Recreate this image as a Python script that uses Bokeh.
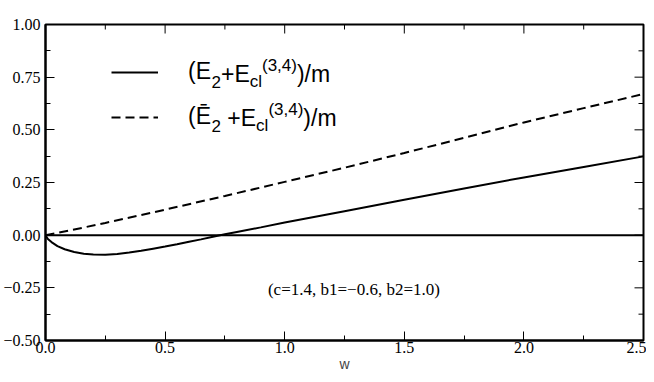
import math
from bokeh.plotting import figure
from bokeh.models import Range1d, FixedTicker, Label, Legend, LegendItem, Span
from bokeh.core.properties import value
from bokeh.embed import file_html
from bokeh.resources import INLINE

# ---- data ----
w_solid = [0.0, 0.01, 0.025, 0.05, 0.08, 0.12, 0.16, 0.2, 0.25, 0.3, 0.35, 0.4,
           0.45, 0.5, 0.55, 0.6, 0.65, 0.7, 0.75, 0.8, 0.9, 1.0, 1.25, 1.5,
           1.75, 2.0, 2.25, 2.5]
e_solid = [0.0, -0.018, -0.033, -0.052, -0.067, -0.080, -0.088, -0.092, -0.093,
           -0.089, -0.082, -0.074, -0.064, -0.054, -0.043, -0.031, -0.020,
           -0.008, 0.004, 0.015, 0.037, 0.060, 0.114, 0.168, 0.222, 0.274,
           0.324, 0.374]
w_dashed = [0.0, 0.1, 0.25, 0.5, 0.75, 1.0, 1.25, 1.5, 1.75, 2.0, 2.25, 2.5]
e_dashed = [0.0, 0.022, 0.058, 0.121, 0.186, 0.253, 0.320, 0.390, 0.462, 0.535,
            0.603, 0.670]

x_ticks = [0.0, 0.5, 1.0, 1.5, 2.0, 2.5]
x_tick_labels = ["0.0", "0.5", "1.0", "1.5", "2.0", "2.5"]
x_minor = [0.25, 0.75, 1.25, 1.75, 2.25]
y_ticks = [-0.5, -0.25, 0.0, 0.25, 0.5, 0.75, 1.0]
y_tick_labels = ["\u22120.50", "\u22120.25", "0.00", "0.25", "0.50", "0.75", "1.00"]
y_minor = [-0.375, -0.125, 0.125, 0.375, 0.625, 0.875]
x_label = "w"
note_text = "(c=1.4, b1=\u22120.6, b2=1.0)"

SERIF = "Liberation Serif"
SANS = "Liberation Sans"
X0, X1, Y0, Y1 = 0.0, 2.5, -0.5, 1.0

p = figure(width=646, height=374, output_backend="svg", toolbar_location=None,
           x_range=Range1d(X0, X1), y_range=Range1d(Y0, Y1),
           min_border_left=42, min_border_right=3, min_border_top=24,
           min_border_bottom=34, background_fill_color="white",
           border_fill_color="white")
p.xgrid.visible = False
p.ygrid.visible = False
p.outline_line_color = "black"
p.outline_line_width = 2


def style(ax):
    ax.axis_line_color = "black"
    ax.axis_line_width = 2
    ax.major_tick_in = 9
    ax.major_tick_out = 0
    ax.minor_tick_in = 5
    ax.minor_tick_out = 0
    ax.major_tick_line_color = "black"
    ax.minor_tick_line_color = "black"
    ax.major_tick_line_width = 1
    ax.minor_tick_line_width = 1
    ax.major_label_text_font = SERIF
    ax.major_label_text_font_size = "16px"
    ax.major_label_text_color = "black"


xa = p.xaxis[0]
xa.ticker = FixedTicker(ticks=x_ticks, minor_ticks=x_minor)
xa.major_label_overrides = {t: s for t, s in zip(x_ticks, x_tick_labels)}
style(xa)
xa.major_label_standoff = 1
xa.axis_label = x_label
xa.axis_label_text_font = SANS
xa.axis_label_text_font_style = "normal"
xa.axis_label_text_font_size = "14px"
xa.axis_label_standoff = 0

ya = p.yaxis[0]
ya.ticker = FixedTicker(ticks=y_ticks, minor_ticks=y_minor)
ya.major_label_overrides = {t: s for t, s in zip(y_ticks, y_tick_labels)}
style(ya)
ya.major_label_standoff = 5

# inward ticks on the top and right edges (dash markers clipped by the frame)
p.scatter(x_ticks, [Y1] * len(x_ticks), marker="dash", angle=math.pi / 2,
          size=18, line_color="black", line_width=1)
p.scatter(x_minor, [Y1] * len(x_minor), marker="dash", angle=math.pi / 2,
          size=10, line_color="black", line_width=1)
p.scatter([X1] * len(y_ticks), y_ticks, marker="dash", size=18,
          line_color="black", line_width=1)
p.scatter([X1] * len(y_minor), y_minor, marker="dash", size=10,
          line_color="black", line_width=1)

p.add_layout(Span(location=0, dimension="width", line_color="black", line_width=2))

r1 = p.line(w_solid, e_solid, line_color="black", line_width=2)
r2 = p.line(w_dashed, e_dashed, line_color="black", line_width=2, line_dash="9 5")

# legend: frame is at x 42..643, y 24..~339
FRAME_LEFT, FRAME_BOTTOM = 42, 339
MAIN, SMALL = 23, 17
legend = Legend(items=[LegendItem(label=value("(E"), renderers=[r1]),
                       LegendItem(label=value("(\u0112"), renderers=[r2])],
                location=(108 - FRAME_LEFT, FRAME_BOTTOM - 129),
                glyph_width=47, glyph_height=26, label_height=26, spacing=18,
                padding=0, margin=0, border_line_alpha=0,
                background_fill_alpha=0, label_text_font=SANS,
                label_text_font_size=f"{MAIN}px", label_text_color="black",
                label_standoff=30)
p.add_layout(legend)

AW = {"(": 0.333, ")": 0.333, "E": 0.667, "\u0112": 0.667, "+": 0.584, "/": 0.278,
      "m": 0.833, "2": 0.556, "c": 0.5, "l": 0.222, ",": 0.278, "3": 0.556,
      "4": 0.556}


def place(pieces, x0, center):
    x = x0
    for txt, kind, gap in pieces:
        x += gap * MAIN
        size = MAIN if kind == "main" else SMALL
        dy = {"main": 0, "sub": 8, "sup": -8}[kind]
        p.add_layout(Label(x=x - FRAME_LEFT, y=FRAME_BOTTOM - (center + dy),
                           x_units="screen", y_units="screen", text=txt,
                           text_font=SANS, text_font_size=f"{size}px",
                           text_color="black", text_baseline="middle"))
        x += sum(AW[c] for c in txt) * size


start = 185 + (0.333 + 0.667) * MAIN
place([("2", "sub", 0), ("+E", "main", 0), ("cl", "sub", 0),
       ("(3,4)", "sup", 0), (")/m", "main", 0)], start, 72)
place([("2", "sub", 0), ("+E", "main", 0.278), ("cl", "sub", 0),
       ("(3,4)", "sup", 0), (")/m", "main", 0)], start, 116)

p.add_layout(Label(x=0.93, y=-0.258, text=note_text, text_font=SERIF,
                   text_font_size="17px", text_color="black",
                   text_baseline="alphabetic"))

open("out.html", "w").write(file_html(p, INLINE))
